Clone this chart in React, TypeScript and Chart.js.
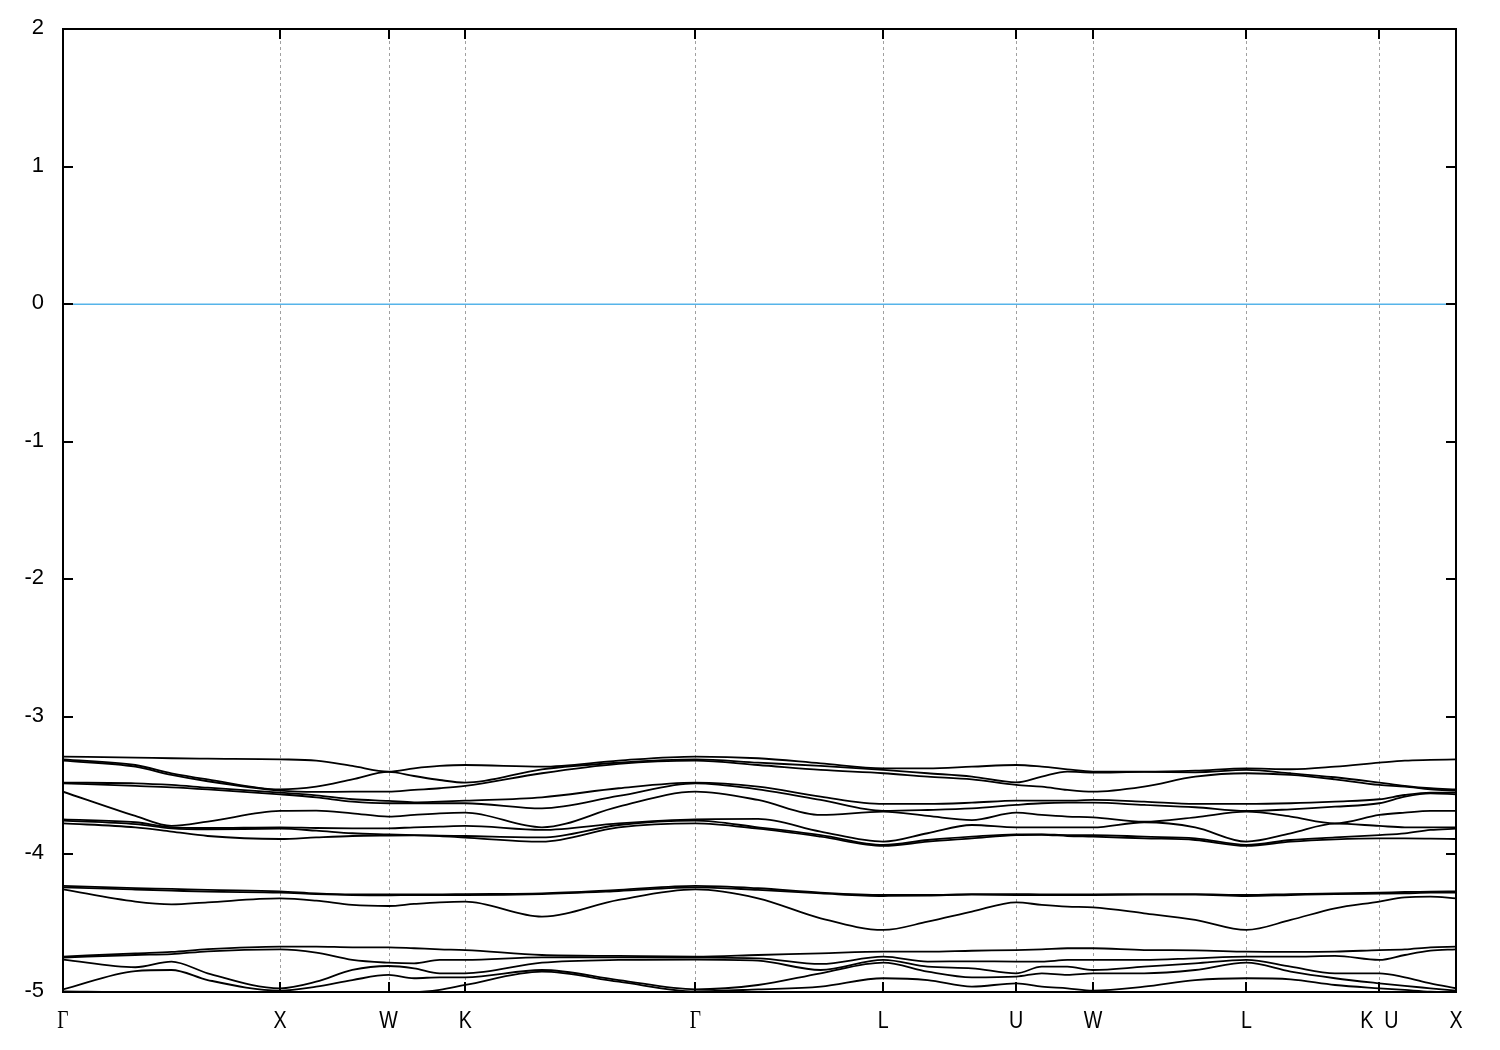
import React, { useEffect, useRef } from "react";
import { Chart, registerables } from "chart.js";

Chart.register(...registerables);

// path coordinate (k) of the sampled points along Γ-X-W-K-Γ-L-U-W-L-K|U-X
const kPoints = [
  0, 0.3333, 0.5, 0.6667, 1, 1.1667, 1.3333, 1.5, 1.6179, 1.7357, 1.8536, 2.2071,
  2.5607, 2.9142, 3.2029, 3.4915, 3.7802, 3.9843, 4.1885, 4.3926, 4.5105,
  4.6283, 4.7462, 4.9819, 5.2176, 5.4533, 5.6574, 5.8616, 6.0657, 6.1836,
  6.3014, 6.4193,
];

// high-symmetry points
const symLabels = ["Γ", "X", "W", "K", "Γ", "L", "U", "W", "L", "K  U", "X"];
const symPositions = [0, 1, 1.5, 1.8536, 2.9142, 3.7802, 4.3926, 4.7462, 5.4533, 6.0657, 6.4193];

// energy axis
const yTickValues = [2, 1, 0, -1, -2, -3, -4, -5];
const fermiLevel = 0;

// upper band bundle
const bandA1 = [-3.289, -3.296, -3.301, -3.304, -3.309, -3.318, -3.357, -3.398, -3.374, -3.357, -3.35, -3.362, -3.318, -3.289, -3.301, -3.338, -3.374, -3.374, -3.362, -3.35, -3.362, -3.381, -3.398, -3.398, -3.391, -3.374, -3.381, -3.362, -3.333, -3.318, -3.313, -3.309];
const bandA2 = [-3.309, -3.35, -3.41, -3.454, -3.527, -3.507, -3.454, -3.4, -3.43, -3.459, -3.478, -3.381, -3.333, -3.309, -3.333, -3.357, -3.386, -3.41, -3.434, -3.476, -3.434, -3.398, -3.405, -3.4, -3.403, -3.386, -3.41, -3.439, -3.478, -3.502, -3.519, -3.527];
const bandA3 = [-3.318, -3.362, -3.422, -3.468, -3.536, -3.546, -3.544, -3.544, -3.531, -3.519, -3.502, -3.41, -3.342, -3.318, -3.35, -3.386, -3.41, -3.434, -3.454, -3.495, -3.507, -3.531, -3.544, -3.507, -3.435, -3.41, -3.422, -3.454, -3.495, -3.507, -3.527, -3.536];
const bandA4 = [-3.478, -3.483, -3.495, -3.515, -3.551, -3.57, -3.599, -3.611, -3.621, -3.616, -3.609, -3.585, -3.519, -3.478, -3.507, -3.58, -3.633, -3.633, -3.624, -3.609, -3.609, -3.609, -3.604, -3.616, -3.633, -3.633, -3.628, -3.616, -3.599, -3.568, -3.551, -3.551];
const bandA5 = [-3.483, -3.502, -3.512, -3.527, -3.563, -3.585, -3.616, -3.628, -3.628, -3.628, -3.628, -3.665, -3.575, -3.483, -3.527, -3.604, -3.684, -3.677, -3.665, -3.64, -3.628, -3.624, -3.624, -3.64, -3.657, -3.684, -3.672, -3.653, -3.628, -3.58, -3.556, -3.563];
const bandA6 = [-3.544, -3.72, -3.793, -3.762, -3.684, -3.682, -3.701, -3.725, -3.713, -3.701, -3.696, -3.803, -3.653, -3.544, -3.604, -3.713, -3.689, -3.72, -3.75, -3.696, -3.713, -3.725, -3.73, -3.762, -3.73, -3.689, -3.725, -3.774, -3.713, -3.696, -3.684, -3.684];
const bandA7 = [-3.745, -3.766, -3.803, -3.808, -3.803, -3.808, -3.81, -3.81, -3.803, -3.798, -3.793, -3.822, -3.774, -3.745, -3.742, -3.834, -3.907, -3.846, -3.786, -3.803, -3.803, -3.803, -3.803, -3.766, -3.803, -3.907, -3.847, -3.776, -3.793, -3.803, -3.803, -3.803];
const bandA8 = [-3.754, -3.779, -3.81, -3.817, -3.813, -3.827, -3.846, -3.854, -3.859, -3.863, -3.866, -3.876, -3.786, -3.754, -3.803, -3.859, -3.931, -3.895, -3.871, -3.854, -3.854, -3.859, -3.859, -3.871, -3.883, -3.931, -3.895, -3.876, -3.859, -3.847, -3.822, -3.813];
const bandA9 = [-3.774, -3.803, -3.834, -3.866, -3.888, -3.876, -3.866, -3.863, -3.862, -3.866, -3.878, -3.907, -3.803, -3.774, -3.813, -3.871, -3.938, -3.907, -3.883, -3.859, -3.857, -3.866, -3.871, -3.883, -3.895, -3.938, -3.907, -3.89, -3.883, -3.883, -3.885, -3.888];

// middle bundle
const bandC1 = [-4.229, -4.245, -4.251, -4.258, -4.268, -4.283, -4.29, -4.29, -4.29, -4.29, -4.288, -4.283, -4.258, -4.229, -4.246, -4.278, -4.295, -4.295, -4.288, -4.288, -4.29, -4.29, -4.29, -4.288, -4.288, -4.295, -4.288, -4.283, -4.278, -4.273, -4.271, -4.268];
const bandC2 = [-4.239, -4.255, -4.263, -4.271, -4.278, -4.288, -4.295, -4.297, -4.295, -4.295, -4.295, -4.288, -4.266, -4.239, -4.258, -4.283, -4.302, -4.3, -4.292, -4.295, -4.295, -4.295, -4.295, -4.292, -4.292, -4.302, -4.295, -4.288, -4.285, -4.283, -4.278, -4.278];
const bandC3 = [-4.254, -4.343, -4.363, -4.348, -4.32, -4.336, -4.367, -4.375, -4.36, -4.348, -4.343, -4.452, -4.331, -4.254, -4.319, -4.464, -4.549, -4.489, -4.416, -4.348, -4.367, -4.38, -4.385, -4.428, -4.476, -4.549, -4.476, -4.392, -4.343, -4.312, -4.307, -4.32];

// lower bundle
const bandD1 = [-4.743, -4.719, -4.709, -4.689, -4.67, -4.67, -4.675, -4.675, -4.682, -4.69, -4.695, -4.731, -4.738, -4.743, -4.731, -4.719, -4.707, -4.707, -4.7, -4.695, -4.69, -4.682, -4.682, -4.695, -4.697, -4.707, -4.709, -4.707, -4.695, -4.69, -4.675, -4.67];
const bandD2 = [-4.75, -4.731, -4.724, -4.704, -4.69, -4.714, -4.767, -4.787, -4.792, -4.767, -4.767, -4.748, -4.748, -4.75, -4.755, -4.796, -4.743, -4.779, -4.777, -4.779, -4.779, -4.767, -4.767, -4.767, -4.755, -4.743, -4.743, -4.738, -4.767, -4.731, -4.7, -4.69];
const bandD3 = [-4.764, -4.82, -4.779, -4.864, -4.973, -4.925, -4.84, -4.811, -4.828, -4.864, -4.864, -4.787, -4.767, -4.764, -4.772, -4.84, -4.767, -4.816, -4.828, -4.864, -4.816, -4.816, -4.84, -4.816, -4.792, -4.767, -4.816, -4.864, -4.864, -4.893, -4.937, -4.973];
const bandD4 = [-4.981, -4.848, -4.84, -4.913, -4.99, -4.961, -4.913, -4.876, -4.9, -4.893, -4.893, -4.84, -4.913, -4.981, -4.949, -4.864, -4.787, -4.852, -4.893, -4.888, -4.864, -4.876, -4.864, -4.864, -4.84, -4.787, -4.852, -4.9, -4.937, -4.956, -4.973, -4.99];
const bandD5 = [-4.995, -5.0, -5.0, -5.0, -5.002, -5.0, -5.0, -5.0, -5.0, -4.985, -4.949, -4.852, -4.925, -4.995, -4.981, -4.961, -4.9, -4.913, -4.961, -4.937, -4.961, -4.973, -4.99, -4.961, -4.913, -4.9, -4.908, -4.949, -4.973, -4.985, -4.997, -5.002];

const bands = [
  bandA1, bandA2, bandA3, bandA4, bandA5, bandA6, bandA7, bandA8, bandA9,
  bandC1, bandC2, bandC3,
  bandD1, bandD2, bandD3, bandD4, bandD5,
];

export default function App() {
  const ref = useRef<HTMLCanvasElement>(null);

  useEffect(() => {
    const canvas = ref.current;
    if (!canvas) return;

    const kMin = symPositions[0];
    const kMax = symPositions[symPositions.length - 1];

    const framePlugin = {
      id: "bandFrame",
      beforeDatasetsDraw(chart: any) {
        const { ctx, chartArea: a, scales } = chart;
        const xs = scales.x;
        ctx.save();
        ctx.strokeStyle = "#a0a0a0";
        ctx.lineWidth = 1;
        ctx.setLineDash([3, 3]);
        symPositions.forEach((k, i) => {
          if (i === 0 || i === symPositions.length - 1) return;
          const px = Math.round(xs.getPixelForValue(k)) + 0.5;
          ctx.beginPath();
          ctx.moveTo(px, a.top);
          ctx.lineTo(px, a.bottom);
          ctx.stroke();
        });
        ctx.restore();
      },
      afterDatasetsDraw(chart: any) {
        const { ctx, chartArea: a, scales } = chart;
        const xs = scales.x;
        const ys = scales.y;
        ctx.save();
        ctx.setLineDash([]);
        ctx.strokeStyle = "#000";
        ctx.lineWidth = 2;
        // ticks
        ctx.beginPath();
        yTickValues.forEach((v) => {
          const py = Math.round(ys.getPixelForValue(v));
          ctx.moveTo(a.left, py);
          ctx.lineTo(a.left + 10, py);
          ctx.moveTo(a.right - 10, py);
          ctx.lineTo(a.right, py);
        });
        symPositions.forEach((k) => {
          const px = Math.round(xs.getPixelForValue(k));
          ctx.moveTo(px, a.bottom);
          ctx.lineTo(px, a.bottom - 10);
          ctx.moveTo(px, a.top);
          ctx.lineTo(px, a.top + 10);
        });
        ctx.stroke();
        // frame
        ctx.strokeRect(a.left, a.top, a.right - a.left, a.bottom - a.top);

        // y labels
        ctx.fillStyle = "#000";
        ctx.font = '22px "Liberation Sans", Arial, sans-serif';
        ctx.textAlign = "right";
        ctx.textBaseline = "middle";
        yTickValues.forEach((v) => {
          const py = ys.getPixelForValue(v);
          ctx.fillText(String(v), a.left - 19, py - 1);
        });

        // x labels
        ctx.textAlign = "center";
        ctx.textBaseline = "alphabetic";
        symLabels.forEach((lab, i) => {
          const px = xs.getPixelForValue(symPositions[i]);
          const isGreek = lab === "Γ";
          ctx.save();
          ctx.translate(px, a.bottom + 36);
          if (isGreek) {
            ctx.font = '26px "Liberation Serif", "Times New Roman", serif';
            ctx.scale(0.75, 1);
          } else {
            ctx.font = '24px "Liberation Sans", Arial, sans-serif';
            ctx.scale(0.82, 1);
          }
          ctx.fillText(lab, 0, 0);
          ctx.restore();
        });
        ctx.restore();
      },
    };

    const datasets: any[] = bands.map((b) => ({
      data: kPoints.map((k, i) => ({ x: k, y: b[i] })),
      borderColor: "#000",
      borderWidth: 1.8,
      pointRadius: 0,
      fill: false,
      cubicInterpolationMode: "monotone",
    }));
    datasets.push({
      data: [
        { x: kMin, y: fermiLevel },
        { x: kMax, y: fermiLevel },
      ],
      borderColor: "#56b4e9",
      borderWidth: 1.5,
      pointRadius: 0,
      fill: false,
    });

    const chart = new Chart(canvas, {
      type: "line",
      data: { datasets },
      options: {
        responsive: false,
        animation: false,
        layout: { padding: { left: 63, top: 29, right: 44, bottom: 58 } },
        plugins: { legend: { display: false }, tooltip: { enabled: false } },
        scales: {
          x: { type: "linear", min: kMin, max: kMax, display: false },
          y: { type: "linear", min: -5, max: 2, display: false },
        },
      },
      plugins: [framePlugin],
    });

    return () => chart.destroy();
  }, []);

  return (
    <div style={{ position: "absolute", left: 0, top: 0, width: 1500, height: 1050, background: "#fff" }}>
      <canvas ref={ref} width={1500} height={1050} style={{ display: "block" }} />
    </div>
  );
}
